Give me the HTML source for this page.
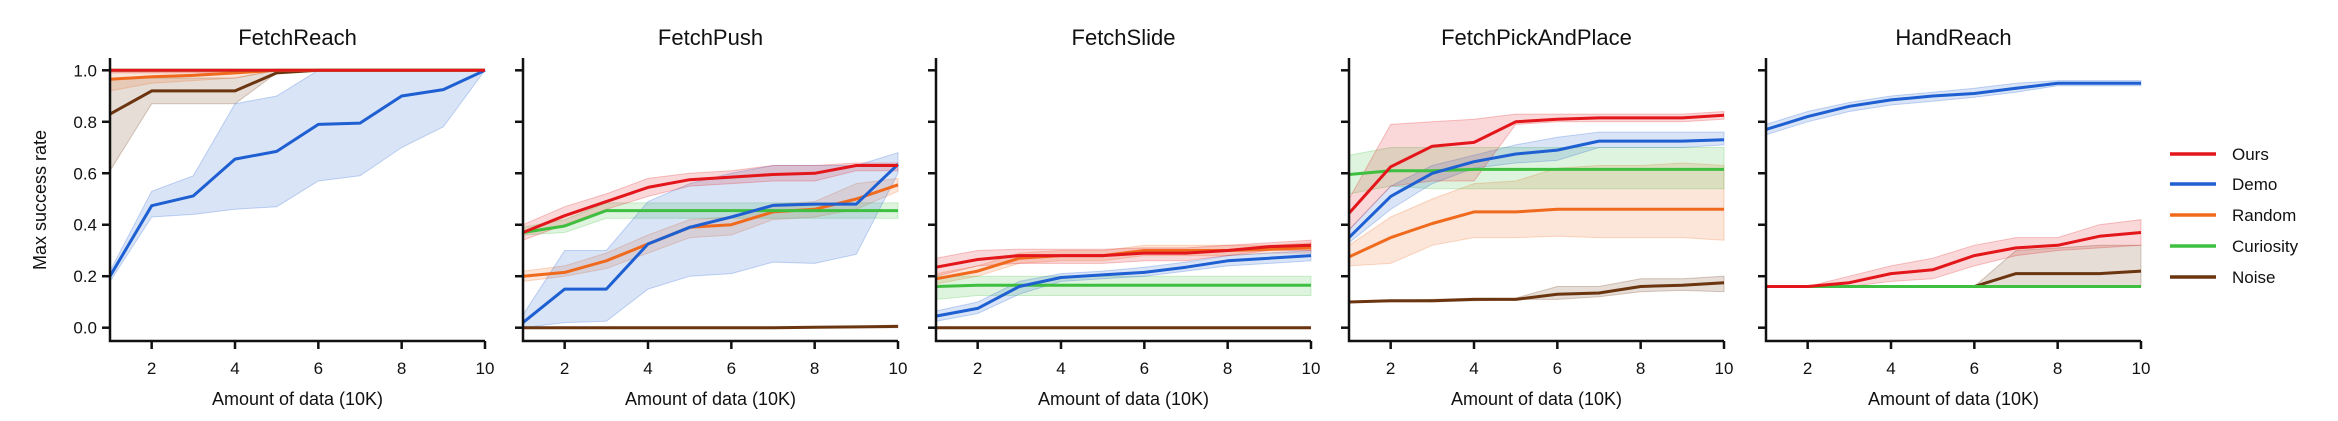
<!DOCTYPE html>
<html><head><meta charset="utf-8"><style>
html,body{margin:0;padding:0;background:#fff;}
svg{display:block;font-family:"Liberation Sans",Arial,sans-serif;}
</style></head>
<body>
<svg id="chart" width="2338" height="421" viewBox="0 0 2338 421" xmlns="http://www.w3.org/2000/svg"></svg>
<script>
const xs = [1,2,3,4,5,6,7,8,9,10];
const panelTitles = ["FetchReach","FetchPush","FetchSlide","FetchPickAndPlace","HandReach"];
const seriesNames = ["Ours","Demo","Random","Curiosity","Noise"];
const seriesColors = ["#e3161b","#1e5fd2","#f06a1e","#3fbf3f","#6b3510"];
const yTicks = [0.0,0.2,0.4,0.6,0.8,1.0];
const xTicks = [2,4,6,8,10];

// FetchReach
const reachOurs = [1,1,1,1,1,1,1,1,1,1];
const reachOursLo = [0.99,0.99,0.99,0.99,1,1,1,1,1,1];
const reachOursHi = [1,1,1,1,1,1,1,1,1,1];
const reachDemo = [0.2,0.474,0.512,0.655,0.685,0.79,0.795,0.9,0.925,1.0];
const reachDemoLo = [0.18,0.43,0.44,0.46,0.47,0.57,0.59,0.7,0.78,1.0];
const reachDemoHi = [0.22,0.53,0.59,0.87,0.9,1,1,1,1,1];
const reachRandom = [0.965,0.975,0.98,0.99,1,1,1,1,1,1];
const reachRandomLo = [0.92,0.95,0.96,0.97,1,1,1,1,1,1];
const reachRandomHi = [1,1,1,1,1,1,1,1,1,1];
const reachCur = [1,1,1,1,1,1,1,1,1,1];
const reachCurLo = [1,1,1,1,1,1,1,1,1,1];
const reachCurHi = [1,1,1,1,1,1,1,1,1,1];
const reachNoise = [0.83,0.92,0.92,0.92,0.99,1,1,1,1,1];
const reachNoiseLo = [0.61,0.87,0.87,0.87,0.99,1,1,1,1,1];
const reachNoiseHi = [0.97,0.97,0.97,0.97,1,1,1,1,1,1];

// FetchPush
const pushOurs = [0.37,0.435,0.49,0.545,0.575,0.585,0.595,0.6,0.63,0.63];
const pushOursLo = [0.34,0.4,0.46,0.51,0.55,0.56,0.57,0.57,0.61,0.61];
const pushOursHi = [0.4,0.47,0.52,0.58,0.6,0.61,0.63,0.63,0.64,0.64];
const pushDemo = [0.02,0.15,0.15,0.325,0.39,0.43,0.475,0.48,0.48,0.635];
const pushDemoLo = [0.0,0.02,0.025,0.15,0.2,0.21,0.255,0.25,0.285,0.6];
const pushDemoHi = [0.05,0.3,0.3,0.49,0.56,0.6,0.63,0.63,0.63,0.68];
const pushRandom = [0.2,0.215,0.26,0.325,0.39,0.4,0.45,0.46,0.5,0.555];
const pushRandomLo = [0.18,0.2,0.23,0.29,0.35,0.36,0.42,0.43,0.46,0.53];
const pushRandomHi = [0.22,0.24,0.29,0.36,0.42,0.43,0.48,0.49,0.56,0.58];
const pushCur = [0.37,0.395,0.455,0.455,0.455,0.455,0.455,0.455,0.455,0.455];
const pushCurLo = [0.36,0.37,0.425,0.425,0.425,0.425,0.425,0.425,0.425,0.425];
const pushCurHi = [0.39,0.42,0.485,0.485,0.485,0.485,0.485,0.485,0.485,0.485];
const pushNoise = [0,0,0,0,0,0,0,0.002,0.003,0.005];
const pushNoiseLo = [0,0,0,0,0,0,0,0,0,0];
const pushNoiseHi = [0,0,0,0,0,0,0,0.004,0.006,0.01];

// FetchSlide
const slideOurs = [0.235,0.265,0.28,0.28,0.28,0.29,0.29,0.3,0.315,0.32];
const slideOursLo = [0.2,0.24,0.25,0.25,0.25,0.26,0.26,0.28,0.3,0.3];
const slideOursHi = [0.27,0.3,0.305,0.305,0.305,0.31,0.31,0.32,0.33,0.34];
const slideDemo = [0.045,0.075,0.16,0.195,0.205,0.215,0.235,0.26,0.27,0.28];
const slideDemoLo = [0.025,0.055,0.13,0.18,0.19,0.2,0.22,0.24,0.25,0.26];
const slideDemoHi = [0.065,0.1,0.18,0.21,0.22,0.235,0.255,0.28,0.29,0.3];
const slideRandom = [0.19,0.22,0.27,0.28,0.28,0.3,0.3,0.3,0.305,0.31];
const slideRandomLo = [0.17,0.2,0.25,0.26,0.26,0.28,0.28,0.28,0.29,0.29];
const slideRandomHi = [0.21,0.24,0.29,0.3,0.3,0.32,0.32,0.32,0.32,0.33];
const slideCur = [0.16,0.165,0.165,0.165,0.165,0.165,0.165,0.165,0.165,0.165];
const slideCurLo = [0.11,0.125,0.125,0.125,0.125,0.125,0.125,0.125,0.125,0.125];
const slideCurHi = [0.2,0.2,0.2,0.2,0.2,0.2,0.2,0.2,0.2,0.2];
const slideNoise = [0,0,0,0,0,0,0,0,0,0];
const slideNoiseLo = [0,0,0,0,0,0,0,0,0,0];
const slideNoiseHi = [0,0,0,0,0,0,0,0,0,0];

// FetchPickAndPlace
const pickOurs = [0.445,0.625,0.705,0.72,0.8,0.81,0.815,0.815,0.815,0.825];
const pickOursLo = [0.38,0.55,0.57,0.57,0.79,0.8,0.8,0.8,0.8,0.81];
const pickOursHi = [0.5,0.79,0.8,0.81,0.83,0.83,0.83,0.83,0.83,0.84];
const pickDemo = [0.35,0.51,0.6,0.645,0.675,0.69,0.725,0.725,0.725,0.73];
const pickDemoLo = [0.33,0.46,0.56,0.62,0.64,0.65,0.7,0.7,0.7,0.71];
const pickDemoHi = [0.38,0.55,0.63,0.67,0.71,0.74,0.76,0.76,0.76,0.76];
const pickRandom = [0.275,0.35,0.405,0.45,0.45,0.46,0.46,0.46,0.46,0.46];
const pickRandomLo = [0.24,0.25,0.32,0.35,0.35,0.355,0.35,0.35,0.35,0.34];
const pickRandomHi = [0.32,0.43,0.5,0.56,0.57,0.62,0.63,0.63,0.64,0.63];
const pickCur = [0.595,0.61,0.61,0.615,0.615,0.615,0.615,0.615,0.615,0.615];
const pickCurLo = [0.52,0.55,0.54,0.54,0.54,0.54,0.54,0.54,0.54,0.54];
const pickCurHi = [0.67,0.7,0.7,0.7,0.7,0.7,0.7,0.7,0.7,0.7];
const pickNoise = [0.1,0.105,0.105,0.11,0.11,0.13,0.135,0.16,0.165,0.175];
const pickNoiseLo = [0.1,0.1,0.1,0.105,0.11,0.11,0.12,0.14,0.145,0.14];
const pickNoiseHi = [0.1,0.105,0.11,0.115,0.115,0.16,0.16,0.19,0.19,0.2];

// HandReach
const handOurs = [0.16,0.16,0.175,0.21,0.225,0.28,0.31,0.32,0.355,0.37];
const handOursLo = [0.16,0.16,0.16,0.18,0.19,0.24,0.28,0.3,0.31,0.32];
const handOursHi = [0.16,0.16,0.2,0.24,0.27,0.32,0.35,0.35,0.4,0.42];
const handDemo = [0.77,0.82,0.86,0.885,0.9,0.91,0.93,0.95,0.95,0.95];
const handDemoLo = [0.75,0.8,0.84,0.865,0.88,0.895,0.915,0.94,0.94,0.94];
const handDemoHi = [0.79,0.84,0.875,0.9,0.915,0.93,0.95,0.96,0.96,0.96];
const handRandom = [0.16,0.16,0.16,0.16,0.16,0.16,0.16,0.16,0.16,0.16];
const handRandomLo = [0.16,0.16,0.16,0.16,0.16,0.16,0.16,0.16,0.16,0.16];
const handRandomHi = [0.16,0.16,0.16,0.16,0.16,0.16,0.16,0.16,0.16,0.16];
const handCur = [0.16,0.16,0.16,0.16,0.16,0.16,0.16,0.16,0.16,0.16];
const handCurLo = [0.16,0.16,0.16,0.16,0.16,0.16,0.16,0.16,0.16,0.16];
const handCurHi = [0.16,0.16,0.16,0.16,0.16,0.16,0.16,0.16,0.16,0.16];
const handNoise = [0.16,0.16,0.16,0.16,0.16,0.16,0.21,0.21,0.21,0.22];
const handNoiseLo = [0.16,0.16,0.16,0.16,0.16,0.16,0.16,0.16,0.16,0.16];
const handNoiseHi = [0.16,0.16,0.16,0.16,0.16,0.16,0.3,0.31,0.32,0.32];

const panels = [
 [[reachOurs,reachOursLo,reachOursHi],[reachDemo,reachDemoLo,reachDemoHi],[reachRandom,reachRandomLo,reachRandomHi],[reachCur,reachCurLo,reachCurHi],[reachNoise,reachNoiseLo,reachNoiseHi]],
 [[pushOurs,pushOursLo,pushOursHi],[pushDemo,pushDemoLo,pushDemoHi],[pushRandom,pushRandomLo,pushRandomHi],[pushCur,pushCurLo,pushCurHi],[pushNoise,pushNoiseLo,pushNoiseHi]],
 [[slideOurs,slideOursLo,slideOursHi],[slideDemo,slideDemoLo,slideDemoHi],[slideRandom,slideRandomLo,slideRandomHi],[slideCur,slideCurLo,slideCurHi],[slideNoise,slideNoiseLo,slideNoiseHi]],
 [[pickOurs,pickOursLo,pickOursHi],[pickDemo,pickDemoLo,pickDemoHi],[pickRandom,pickRandomLo,pickRandomHi],[pickCur,pickCurLo,pickCurHi],[pickNoise,pickNoiseLo,pickNoiseHi]],
 [[handOurs,handOursLo,handOursHi],[handDemo,handDemoLo,handDemoHi],[handRandom,handRandomLo,handRandomHi],[handCur,handCurLo,handCurHi],[handNoise,handNoiseLo,handNoiseHi]]
];
const drawOrder = [4,2,3,1,0];

const NS = "http://www.w3.org/2000/svg";
const svg = document.getElementById("chart");
function mk(tag, attrs, parent){
  const e = document.createElementNS(NS, tag);
  for (const k in attrs) e.setAttribute(k, attrs[k]);
  (parent||svg).appendChild(e);
  return e;
}
const panelLeft = [110,523,936,1349,1766];
const plotW = 375, yTop = 70.3, yBot = 327.7, spineBot = 341;
function xScale(p, v){ return panelLeft[p] + (v-1)/9*plotW; }
function yScale(v){ return yBot - v*(yBot-yTop); }

panels.forEach((pdata, p) => {
  const g = mk("g", {});
  
  
  const L = panelLeft[p], R = L + plotW;
  const t = mk("text", {x:(L+R)/2, y:45, "text-anchor":"middle", "font-size":"22", fill:"#111"}, g);
  t.textContent = panelTitles[p];
  
  

  drawOrder.forEach(si => {
    const [m, lo, hi] = pdata[si];
    let d = "";
    xs.forEach((x,i)=>{ d += (i?"L":"M") + xScale(p,x).toFixed(1) + "," + yScale(hi[i]).toFixed(1); });
    for (let i = xs.length-1; i >= 0; i--) d += "L" + xScale(p,xs[i]).toFixed(1) + "," + yScale(lo[i]).toFixed(1);
    d += "Z";
    const band = mk("path", {d:d, fill:seriesColors[si], "fill-opacity":"0.17", stroke:seriesColors[si], "stroke-opacity":"0.25", "stroke-width":"1"}, g);
    
    
  });
  drawOrder.forEach(si => {
    const m = pdata[si][0];
    const pts = xs.map((x,i)=> xScale(p,x).toFixed(1) + "," + yScale(m[i]).toFixed(1)).join(" ");
    const line = mk("polyline", {points:pts, fill:"none", stroke:seriesColors[si], "stroke-width":"3", "stroke-linejoin":"round"}, g);
    
    
  });

  const ax = mk("path", {d:`M${L},58 L${L},${spineBot} L${R},${spineBot}`, fill:"none", stroke:"#111", "stroke-width":"2.5"}, g);
  
  
  yTicks.forEach(v => {
    const y = yScale(v);
    mk("line", {x1:L-8, x2:L, y1:y, y2:y, stroke:"#111", "stroke-width":"2.5"}, g);
    if (p === 0) {
      const tl = mk("text", {x:L-13, y:y+6, "text-anchor":"end", "font-size":"17", fill:"#111"}, g);
      tl.textContent = v.toFixed(1);
      
      
    }
  });
  xTicks.forEach(v => {
    const x = xScale(p, v);
    mk("line", {x1:x, x2:x, y1:spineBot, y2:spineBot+8, stroke:"#111", "stroke-width":"2.5"}, g);
    const tl = mk("text", {x:x, y:374, "text-anchor":"middle", "font-size":"17", fill:"#111"}, g);
    tl.textContent = v;
    
    
  });
  const xl = mk("text", {x:(L+R)/2, y:405, "text-anchor":"middle", "font-size":"18", fill:"#111"}, g);
  xl.textContent = "Amount of data (10K)";
  
  
});

const yl = mk("text", {x:0, y:0, transform:"translate(46,200) rotate(-90)", "text-anchor":"middle", "font-size":"18", fill:"#111"});
yl.textContent = "Max success rate";



const legendY = [154,184,215,246,277];
seriesNames.forEach((n,i) => {
  const g = mk("g", {});
  
  
  mk("line", {x1:2170, x2:2216, y1:legendY[i], y2:legendY[i], stroke:seriesColors[i], "stroke-width":"3.5"}, g);
  const t = mk("text", {x:2232, y:legendY[i]+6, "font-size":"17", fill:"#111"}, g);
  t.textContent = n;
});
</script>
</body></html>
